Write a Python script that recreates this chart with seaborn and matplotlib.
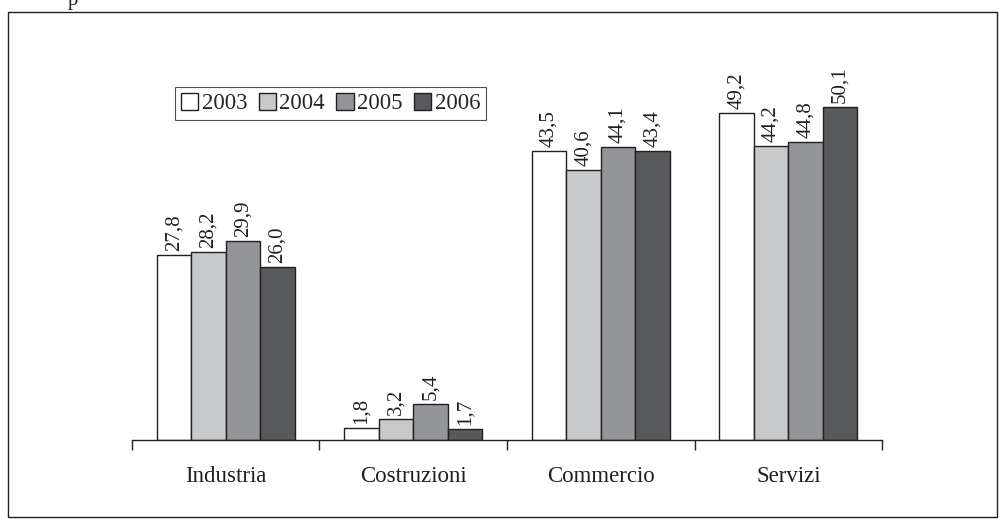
import matplotlib
matplotlib.use("Agg")
import matplotlib.pyplot as plt
from matplotlib.patches import Rectangle
import pandas as pd
import seaborn as sns

# dati del grafico
settori = ["Industria", "Costruzioni", "Commercio", "Servizi"]
anni = ["2003", "2004", "2005", "2006"]
v2003 = [27.8, 1.8, 43.5, 49.2]
v2004 = [28.2, 3.2, 40.6, 44.2]
v2005 = [29.9, 5.4, 44.1, 44.8]
v2006 = [26.0, 1.7, 43.4, 50.1]
colori = ["#ffffff", "#c8c9cb", "#939598", "#58595b"]

valori = [v2003, v2004, v2005, v2006]
righe = []
for anno, serie in zip(anni, valori):
    for s, v in zip(settori, serie):
        righe.append({"settore": s, "anno": anno, "valore": v})
df = pd.DataFrame(righe)

sns.set_theme(style="white")
plt.rcParams["font.family"] = ["Liberation Serif", "DejaVu Serif"]

fig = plt.figure(figsize=(9.99, 5.19), dpi=100)
ax = fig.add_axes([0.1321, 0.1522, 0.7508, 0.7688])

sns.barplot(data=df, x="settore", y="valore", hue="anno", order=settori,
            hue_order=anni, palette=colori, width=0.736, edgecolor="#231f20",
            linewidth=1.0, saturation=1, ax=ax)

for cont, serie in zip(ax.containers, valori):
    etichette = [f"{v:.1f}".replace(".", ",") for v in serie]
    ax.bar_label(cont, labels=etichette, rotation=90, padding=3,
                 fontsize=15, color="#231f20")

ax.set_ylim(0, 60)
ax.set_xlim(-0.5, 3.5)
ax.set_xlabel("")
ax.set_ylabel("")
ax.set_yticks([])
for lato in ["top", "right", "left"]:
    ax.spines[lato].set_visible(False)
ax.spines["bottom"].set_color("#231f20")
ax.spines["bottom"].set_linewidth(1.0)

ax.set_xticks([-0.5, 0.5, 1.5, 2.5, 3.5], minor=True)
ax.tick_params(axis="x", which="minor", length=7, width=1, color="#231f20",
               direction="out", bottom=True)
ax.tick_params(axis="x", which="major", length=0, pad=19, labelsize=16.5,
               labelcolor="#231f20")

ax.legend(loc="upper left", bbox_to_anchor=(0.058, 0.884), ncol=4,
          frameon=True, fancybox=False, edgecolor="#231f20", fontsize=16.5,
          handlelength=0.75, handleheight=0.75, handletextpad=0.15,
          columnspacing=0.5, borderpad=0.25, borderaxespad=0)
ax.get_legend().get_frame().set_linewidth(0.8)

# cornice attorno alla figura
fig.patches.append(Rectangle((0.008, 0.004), 0.99, 0.973, transform=fig.transFigure,
                             fill=False, edgecolor="#231f20", linewidth=1.0))
fig.text(0.073, 1.0, "p", ha="center", va="center", fontsize=15, color="#231f20")

fig.savefig("out.png", dpi=100)
